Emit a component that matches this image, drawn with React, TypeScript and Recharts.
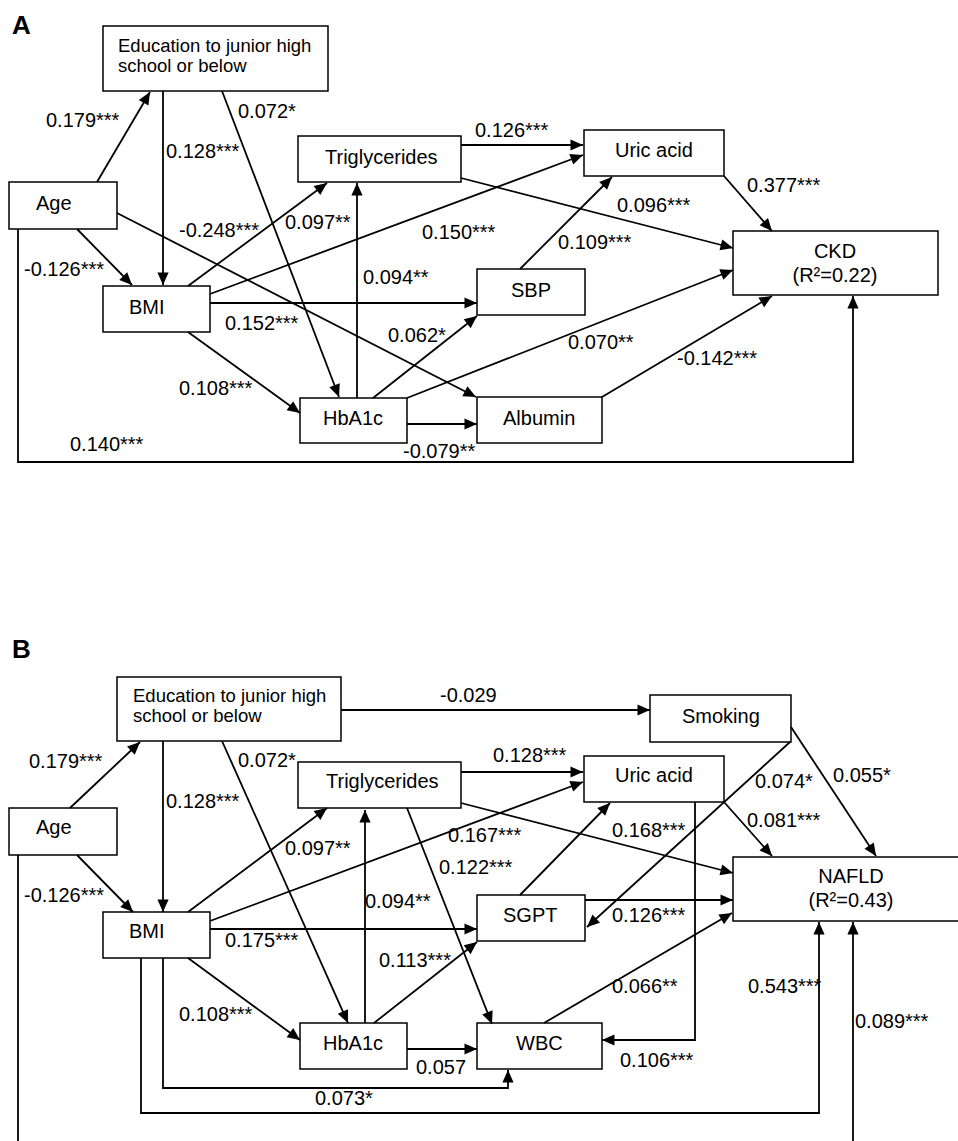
import React from "react";
import { ComposedChart, XAxis, YAxis, Line, Scatter, ReferenceArea } from "recharts";

const W = 958;
const H = 1141;
const FONT = "'Liberation Sans', Arial, Helvetica, sans-serif";

type Pt = [number, number];
type Box = [number, number, number, number];
type Path = [string, string, string];

// text shown inside each variable box
const varLabels: Record<string, string[]> = {
  Education: ["Education to junior high", "school or below"],
  Age: ["Age"],
  Triglycerides: ["Triglycerides"],
  "Uric acid": ["Uric acid"],
  CKD: ["CKD", "(R²=0.22)"],
  NAFLD: ["NAFLD", "(R²=0.43)"],
  BMI: ["BMI"],
  SBP: ["SBP"],
  HbA1c: ["HbA1c"],
  Albumin: ["Albumin"],
  Smoking: ["Smoking"],
  SGPT: ["SGPT"],
  WBC: ["WBC"],
};

// panel A paths: from, to, standardized coefficient
const pathsA: Path[] = [
  ["Age", "Education", "0.179***"],
  ["Education", "BMI", "0.128***"],
  ["Education", "HbA1c", "0.072*"],
  ["Age", "BMI", "-0.126***"],
  ["Age", "Albumin", "-0.248***"],
  ["BMI", "Triglycerides", "0.097**"],
  ["BMI", "Uric acid", "0.150***"],
  ["BMI", "SBP", "0.152***"],
  ["BMI", "HbA1c", "0.108***"],
  ["Triglycerides", "Uric acid", "0.126***"],
  ["Triglycerides", "CKD", "0.096***"],
  ["Uric acid", "CKD", "0.377***"],
  ["SBP", "Uric acid", "0.109***"],
  ["HbA1c", "Triglycerides", "0.094**"],
  ["HbA1c", "SBP", "0.062*"],
  ["HbA1c", "CKD", "0.070**"],
  ["HbA1c", "Albumin", "-0.079**"],
  ["Albumin", "CKD", "-0.142***"],
  ["Age", "CKD", "0.140***"],
];

// panel B paths
const pathsB: Path[] = [
  ["Education", "Smoking", "-0.029"],
  ["Age", "Education", "0.179***"],
  ["Education", "BMI", "0.128***"],
  ["Education", "HbA1c", "0.072*"],
  ["Age", "BMI", "-0.126***"],
  ["BMI", "Triglycerides", "0.097**"],
  ["BMI", "Uric acid", "0.167***"],
  ["BMI", "SGPT", "0.175***"],
  ["BMI", "HbA1c", "0.108***"],
  ["BMI", "WBC", "0.073*"],
  ["BMI", "NAFLD", "0.543***"],
  ["Age", "NAFLD", "0.089***"],
  ["Triglycerides", "Uric acid", "0.128***"],
  ["Triglycerides", "NAFLD", "0.168***"],
  ["Triglycerides", "WBC", "0.122***"],
  ["HbA1c", "Triglycerides", "0.094**"],
  ["HbA1c", "SGPT", "0.113***"],
  ["HbA1c", "WBC", "0.057"],
  ["SGPT", "Uric acid", ""],
  ["SGPT", "NAFLD", "0.126***"],
  ["WBC", "NAFLD", "0.066**"],
  ["Uric acid", "WBC", "0.106***"],
  ["Uric acid", "NAFLD", "0.081***"],
  ["Smoking", "SGPT", "0.074*"],
  ["Smoking", "NAFLD", "0.055*"],
];

// ---- layout (diagram coordinates) ----
const boxesA: Record<string, Box> = {
  Education: [103, 26, 328, 91],
  Age: [9, 182, 117, 229],
  Triglycerides: [298, 136, 461, 182],
  "Uric acid": [584, 130, 724, 176],
  CKD: [733, 231, 938, 295],
  BMI: [103, 286, 210, 332],
  SBP: [477, 269, 585, 315],
  HbA1c: [300, 398, 407, 443],
  Albumin: [477, 397, 602, 443],
};
const textA: Record<string, [number, number, "start" | "middle"]> = {
  Education: [118, 52, "start"],
  Age: [36, 210, "start"],
  Triglycerides: [325, 164, "start"],
  "Uric acid": [615, 157, "start"],
  CKD: [835, 258, "middle"],
  SBP: [511, 297, "start"],
  BMI: [129, 314, "start"],
  HbA1c: [323, 425, "start"],
  Albumin: [503, 425, "start"],
};
const routesA: Pt[][] = [
  [[97, 182], [150, 92]],
  [[163, 91], [163, 285]],
  [[222, 91], [339, 397]],
  [[77, 229], [132, 285]],
  [[117, 213], [476, 397]],
  [[188, 286], [327, 183]],
  [[210, 294], [583, 155]],
  [[210, 303], [477, 303]],
  [[188, 332], [300, 413]],
  [[461, 145], [583, 145]],
  [[461, 178], [733, 248]],
  [[724, 176], [772, 231]],
  [[520, 269], [612, 177]],
  [[357, 398], [357, 183]],
  [[373, 398], [477, 316]],
  [[407, 398], [733, 270]],
  [[407, 424], [477, 424]],
  [[602, 397], [772, 296]],
  [[18, 229], [18, 462], [853, 462], [853, 296]],
];
const coefPosA: Pt[] = [
  [46, 127], [166, 158], [238, 118], [24, 276], [179, 237], [285, 229],
  [422, 239], [225, 330], [179, 395], [475, 137], [617, 212], [747, 192],
  [558, 249], [363, 284], [388, 342], [568, 349], [403, 458], [677, 365],
  [70, 451],
];

const boxesB: Record<string, Box> = {
  Education: [117, 677, 341, 741],
  Age: [9, 808, 117, 855],
  Triglycerides: [298, 762, 461, 808],
  Smoking: [650, 695, 791, 742],
  "Uric acid": [584, 756, 724, 802],
  NAFLD: [733, 857, 975, 921],
  SGPT: [477, 895, 585, 941],
  BMI: [103, 912, 210, 958],
  HbA1c: [300, 1023, 407, 1069],
  WBC: [477, 1023, 602, 1069],
};
const textB: Record<string, [number, number, "start" | "middle"]> = {
  Education: [133, 702, "start"],
  Age: [36, 834, "start"],
  Triglycerides: [326, 788, "start"],
  Smoking: [682, 723, "start"],
  "Uric acid": [615, 782, "start"],
  NAFLD: [851, 883, "middle"],
  SGPT: [503, 922, "start"],
  BMI: [129, 938, "start"],
  HbA1c: [323, 1050, "start"],
  WBC: [516, 1050, "start"],
};
const routesB: Pt[][] = [
  [[341, 710], [650, 710]],
  [[70, 808], [140, 742]],
  [[163, 741], [163, 912]],
  [[222, 741], [348, 1023]],
  [[77, 855], [133, 912]],
  [[188, 912], [327, 808]],
  [[210, 921], [583, 782]],
  [[210, 929], [477, 929]],
  [[188, 958], [300, 1040]],
  [[163, 958], [163, 1088], [508, 1088], [508, 1070]],
  [[141, 958], [141, 1113], [819, 1113], [819, 922]],
  [[18, 855], [18, 1165], [853, 1165], [853, 922]],
  [[461, 772], [583, 772]],
  [[461, 803], [733, 873]],
  [[407, 808], [492, 1024]],
  [[365, 1023], [365, 810]],
  [[374, 1023], [477, 942]],
  [[407, 1049], [477, 1049]],
  [[520, 895], [610, 803]],
  [[585, 900], [733, 900]],
  [[544, 1023], [732, 913]],
  [[695, 802], [695, 1040], [602, 1040]],
  [[724, 802], [772, 856]],
  [[790, 742], [587, 927]],
  [[791, 727], [876, 856]],
];
const coefPosB: Pt[] = [
  [440, 702], [29, 768], [166, 808], [238, 767], [24, 902], [285, 855],
  [448, 842], [225, 947], [179, 1021], [315, 1105], [748, 993], [855, 1028],
  [493, 762], [612, 837], [439, 874], [365, 908], [379, 967], [416, 1074],
  [0, 0], [612, 922], [612, 993], [620, 1067], [747, 827], [755, 788],
  [833, 782],
];

const panels = [
  { letter: "A", letterPos: [12, 34] as Pt, paths: pathsA, boxes: boxesA, text: textA, routes: routesA, coefPos: coefPosA },
  { letter: "B", letterPos: [12, 658] as Pt, paths: pathsB, boxes: boxesB, text: textB, routes: routesB, coefPos: coefPosB },
];

const boxList = panels.flatMap((p, pi) =>
  Object.entries(p.boxes).map(([id, b]) => ({ key: `${pi}-${id}`, b }))
);
const routeData = panels.flatMap((p) => p.routes.map((r) => r.map(([x, y]) => ({ x, y }))));
const headData = routeData.map((pts) => {
  const a = pts[pts.length - 2];
  const b = pts[pts.length - 1];
  return { x: b.x, y: b.y, angle: (Math.atan2(b.y - a.y, b.x - a.x) * 180) / Math.PI };
});
const coefData = panels
  .flatMap((p) => p.paths.map((path, i) => ({ x: p.coefPos[i][0], y: p.coefPos[i][1], text: path[2] })))
  .filter((d) => d.text);
const nodeTextData = panels.flatMap((p) =>
  Object.entries(p.text).map(([id, [x, y, anchor]]) => ({ x, y, anchor, id, lines: varLabels[id] }))
);
const letterData = panels.map((p) => ({ x: p.letterPos[0], y: p.letterPos[1], text: p.letter }));

const ArrowHead = (props: any) => {
  const { cx, cy, payload } = props;
  return (
    <path
      d="M0,0 L-12.5,-5.6 L-12.5,5.6 Z"
      fill="#000"
      transform={`translate(${cx},${cy}) rotate(${payload.angle})`}
    />
  );
};

const CoefText = (props: any) => (
  <text x={props.cx} y={props.cy} fontSize={20} fontFamily={FONT} fill="#000">
    {props.payload.text}
  </text>
);

const NodeText = (props: any) => {
  const { cx, cy, payload } = props;
  const small = payload.id === "Education";
  const size = small ? 18.5 : 20;
  const step = small ? 20 : 24;
  return (
    <text x={cx} y={cy} fontSize={size} fontFamily={FONT} fill="#000" textAnchor={payload.anchor}>
      {payload.lines.map((l: string, i: number) => (
        <tspan key={i} x={cx} dy={i === 0 ? 0 : step}>
          {l}
        </tspan>
      ))}
    </text>
  );
};

const LetterText = (props: any) => (
  <text x={props.cx} y={props.cy} fontSize={26} fontWeight="bold" fontFamily={FONT} fill="#000">
    {props.payload.text}
  </text>
);

export default function App() {
  return (
    <div style={{ position: "absolute", left: 0, top: 0, width: W, height: H, background: "#fff" }}>
      <ComposedChart width={W} height={H} margin={{ top: 0, right: 0, bottom: 0, left: 0 }}>
        <XAxis type="number" dataKey="x" domain={[0, W]} hide allowDataOverflow />
        <YAxis type="number" dataKey="y" domain={[0, H]} reversed hide allowDataOverflow />
        {boxList.map(({ key, b }) => (
          <ReferenceArea
            key={key}
            x1={b[0]}
            x2={b[2]}
            y1={b[1]}
            y2={b[3]}
            fill="#fff"
            fillOpacity={1}
            stroke="#000"
            strokeWidth={1.5}
            ifOverflow="hidden"
          />
        ))}
        {routeData.map((pts, i) => (
          <Line
            key={`edge-${i}`}
            data={pts}
            dataKey="y"
            type="linear"
            stroke="#000"
            strokeWidth={1.8}
            dot={false}
            activeDot={false}
            legendType="none"
            isAnimationActive={false}
          />
        ))}
        <Scatter data={headData} dataKey="y" shape={ArrowHead} isAnimationActive={false} legendType="none" />
        <Scatter data={coefData} dataKey="y" shape={CoefText} isAnimationActive={false} legendType="none" />
        <Scatter data={nodeTextData} dataKey="y" shape={NodeText} isAnimationActive={false} legendType="none" />
        <Scatter data={letterData} dataKey="y" shape={LetterText} isAnimationActive={false} legendType="none" />
      </ComposedChart>
    </div>
  );
}
